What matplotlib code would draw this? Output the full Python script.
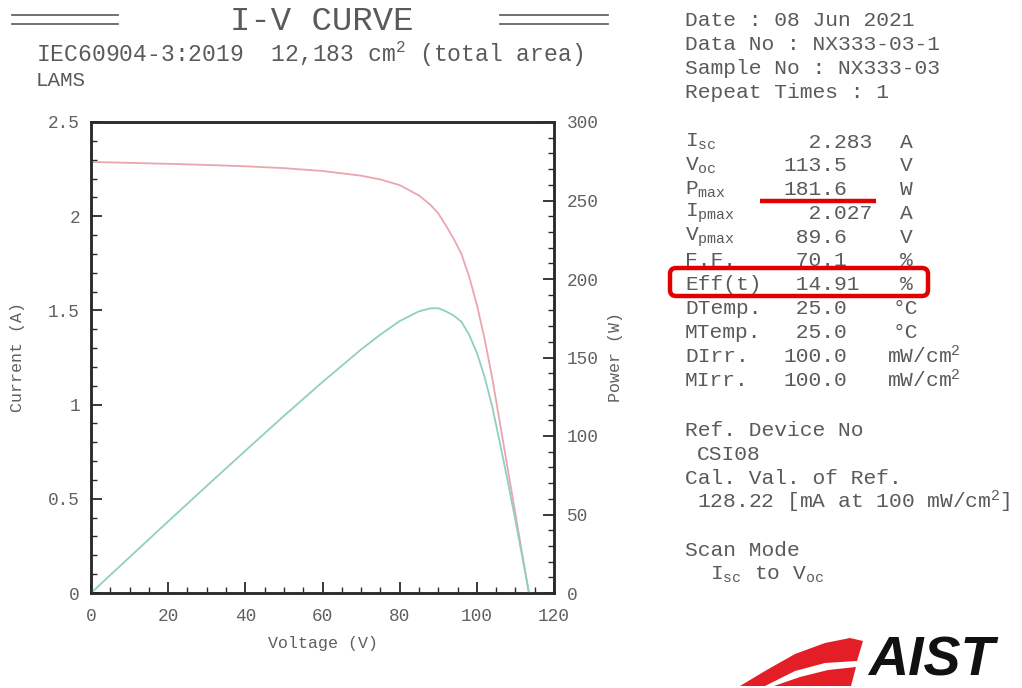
import matplotlib
matplotlib.use("Agg")
import matplotlib.pyplot as plt
from matplotlib.patches import FancyBboxPatch, Polygon
from matplotlib.ticker import MultipleLocator, FixedLocator, FixedFormatter

plt.rcParams['font.family'] = ['Liberation Mono', 'DejaVu Sans Mono']
plt.rcParams['mathtext.fontset'] = 'custom'
plt.rcParams['mathtext.rm'] = 'Liberation Mono'
plt.rcParams['mathtext.it'] = 'Liberation Mono'
plt.rcParams['mathtext.bf'] = 'Liberation Mono:bold'

# ---------------- data ----------------
voltage = [0, 10, 20, 30, 40, 50, 60, 70, 75, 80, 85, 88, 90, 92, 94, 96, 98,
           100, 102, 104, 106, 108, 110, 112, 113.5]
current = [2.288, 2.283, 2.278, 2.272, 2.265, 2.255, 2.240, 2.215, 2.195, 2.165,
           2.110, 2.060, 2.015, 1.950, 1.880, 1.800, 1.680, 1.530, 1.350, 1.140,
           0.900, 0.660, 0.420, 0.180, 0.0]
power = [0.0, 22.8, 45.6, 68.2, 90.6, 112.8, 134.4, 155.1, 164.6, 173.2, 179.4,
         181.3, 181.4, 179.4, 176.7, 172.8, 164.6, 153.0, 137.7, 118.6, 95.4,
         71.3, 46.2, 20.2, 0.0]

x_ticks = [0, 20, 40, 60, 80, 100, 120]
x_tick_labels = ['0', '20', '40', '60', '80', '100', '120']
cur_ticks = [0, 0.5, 1, 1.5, 2, 2.5]
cur_tick_labels = ['0', '0.5', '1', '1.5', '2', '2.5']
pow_ticks = [0, 50, 100, 150, 200, 250, 300]
pow_tick_labels = ['0', '50', '100', '150', '200', '250', '300']

header_lines = ['Date : 08 Jun 2021', 'Data No : NX333-03-1',
                'Sample No : NX333-03', 'Repeat Times : 1']
param_names = [r'I$_{\rm sc}$', r'V$_{\rm oc}$', r'P$_{\rm max}$', r'I$_{\rm pmax}$',
               r'V$_{\rm pmax}$', 'F.F.', 'Eff(t)', 'DTemp.', 'MTemp.', 'DIrr.', 'MIrr.']
param_values = ['  2.283', '113.5', '181.6', '  2.027', ' 89.6', ' 70.1', ' 14.91',
                ' 25.0', ' 25.0', '100.0', '100.0']
param_units = ['A', 'V', 'W', 'A', 'V', '%', '%', '°C', '°C',
               r'mW/cm$^{2}$', r'mW/cm$^{2}$']

W, H = 1022, 688
fig = plt.figure(figsize=(W / 100, H / 100), dpi=100)
fig.patch.set_facecolor('white')

# overlay for page text (pixel coordinates)
ov = fig.add_axes([0, 0, 1, 1])
ov.set_xlim(0, W)
ov.set_ylim(H, 0)
ov.axis('off')
ov.patch.set_alpha(0)

tc = '#5a5a5a'
fs = 15.3

# title and decorative double rules
ov.text(322, 22, 'I-V CURVE', fontsize=24.5, color=tc, ha='center', va='center')
for (x0, x1) in [(12, 118), (500, 608)]:
    for yy in (15, 24):
        ov.plot([x0, x1], [yy, yy], color='#666666', lw=1.3)
ov.text(36, 54, r'IEC60904-3:2019  12,183 cm$^{2}$ (total area)', fontsize=16.6,
        color=tc, ha='left', va='center')
ov.text(36, 80, 'LAMS', fontsize=15, color=tc, ha='left', va='center')

# right side info block
for i, s in enumerate(header_lines):
    ov.text(685, 20 + 24 * i, s, fontsize=fs, color=tc, ha='left', va='center')

row_y0, row_dy = 142, 23.8
for i, (n, v, u) in enumerate(zip(param_names, param_values, param_units)):
    y = row_y0 + row_dy * i
    ov.text(685, y, n, fontsize=fs, color=tc, ha='left', va='center')
    ov.text(783, y, v, fontsize=fs, color=tc, ha='left', va='center')
    ux = 900 if len(u) == 1 else (893 if u == '°C' else 887)
    ov.text(ux, y, u, fontsize=fs, color=tc, ha='left', va='center')

# red highlights
ov.plot([760, 876], [201, 201], color='#e00000', lw=3.2, solid_capstyle='butt')
box = FancyBboxPatch((670, 268), 258, 28, boxstyle='round,pad=0,rounding_size=6',
                     fill=False, ec='#e00000', lw=3.2)
ov.add_patch(box)

ov.text(685, 430, 'Ref. Device No', fontsize=fs, color=tc, ha='left', va='center')
ov.text(697, 454, 'CSI08', fontsize=fs, color=tc, ha='left', va='center')
ov.text(685, 478, 'Cal. Val. of Ref.', fontsize=fs, color=tc, ha='left', va='center')
ov.text(697, 502, r'128.22 [mA at 100 mW/cm$^{2}$]', fontsize=fs, color=tc,
        ha='left', va='center')
ov.text(685, 550, 'Scan Mode', fontsize=fs, color=tc, ha='left', va='center')
ov.text(710, 575, r'I$_{\rm sc}$ to V$_{\rm oc}$', fontsize=fs, color=tc,
        ha='left', va='center')

# AIST logo
red = '#e41e26'
ov.add_patch(Polygon([(740, 686), (765, 671), (795, 654), (825, 643), (850, 638),
                      (863, 641), (857, 661), (825, 663), (795, 671), (765, 686)],
                     closed=True, fc=red, ec='none'))
ov.add_patch(Polygon([(774, 686), (800, 677), (828, 670), (856, 667), (851, 686)],
                     closed=True, fc=red, ec='none'))
ov.text(868, 687, 'AIST', fontsize=40, fontweight='bold', fontstyle='italic',
        family='Liberation Sans', color='#111111', ha='left', va='bottom')

# ---------------- main chart ----------------
ax = fig.add_axes([91 / W, 1 - 593 / H, (554 - 91) / W, (593 - 122) / H])
ax.plot(voltage, current, color='#eba5ae', lw=1.3)
ax.set_xlim(0, 120)
ax.set_ylim(0, 2.5)
ax2 = ax.twinx()
ax2.plot(voltage, power, color='#8fd0bf', lw=1.3)
ax2.set_ylim(0, 300)

ax.xaxis.set_major_locator(FixedLocator(x_ticks))
ax.xaxis.set_major_formatter(FixedFormatter(x_tick_labels))
ax.xaxis.set_minor_locator(MultipleLocator(5))
ax.yaxis.set_major_locator(FixedLocator(cur_ticks))
ax.yaxis.set_major_formatter(FixedFormatter(cur_tick_labels))
ax.yaxis.set_minor_locator(MultipleLocator(0.1))
ax2.yaxis.set_major_locator(FixedLocator(pow_ticks))
ax2.yaxis.set_major_formatter(FixedFormatter(pow_tick_labels))
ax2.yaxis.set_minor_locator(MultipleLocator(10))

sc = '#2a2a2a'
lc = '#606060'
for a in (ax, ax2):
    for sp in a.spines.values():
        sp.set_color(sc)
        sp.set_linewidth(1.8)
ax.tick_params(axis='x', which='both', direction='in', top=False, bottom=True,
               color=sc, labelcolor=lc, labelsize=12.8, pad=11)
ax.tick_params(axis='y', which='both', direction='in', left=True, right=False,
               color=sc, labelcolor=lc, labelsize=12.8, pad=8)
ax2.tick_params(axis='y', which='both', direction='in', right=True, left=False,
                color=sc, labelcolor=lc, labelsize=12.8, pad=9)
for a in (ax, ax2):
    a.tick_params(which='major', length=8, width=1.3)
    a.tick_params(which='minor', length=4, width=1.0)

ax.set_xlabel('Voltage (V)', fontsize=12, color=lc)
ax.set_ylabel('Current (A)', fontsize=12, color=lc)
ax2.set_ylabel('Power (W)', fontsize=12, color=lc, rotation=90)
ax.xaxis.set_label_coords(0.5, -0.092)
ax.yaxis.set_label_coords(-0.142, 0.5)
ax2.yaxis.set_label_coords(1.117, 0.5)

fig.savefig('out.png', dpi=100, facecolor='white')
